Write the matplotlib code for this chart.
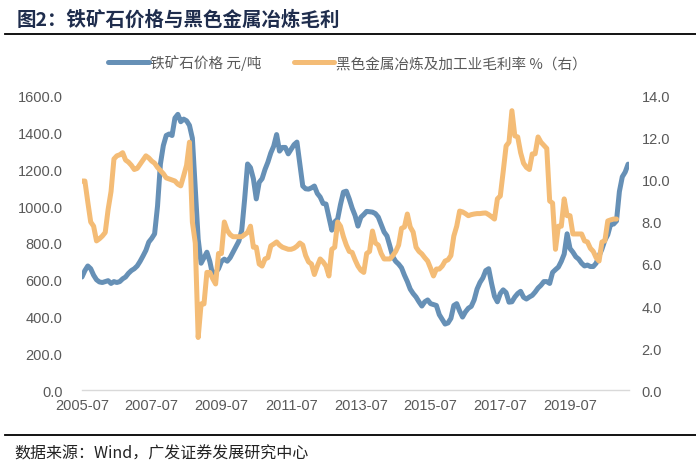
import numpy as np
import pandas as pd
import matplotlib
matplotlib.use("Agg")
import matplotlib.pyplot as plt
from matplotlib.lines import Line2D

plt.rcParams['font.family'] = ['Noto Sans CJK SC', 'DejaVu Sans']

# 月度数据，起点 2005-07
start_month = "2005-07"

iron_ore = [
    615, 650, 675, 660, 625, 600, 588, 585, 590, 595,
    580, 590, 585, 590, 605, 615, 635, 650, 660, 675,
    700, 729, 760, 805, 825, 850, 1000, 1230, 1330, 1385,
    1393, 1385, 1480, 1500, 1460, 1474, 1465, 1440, 1370, 1093,
    821, 690, 720, 750, 700, 625, 640, 660, 700, 712,
    701, 720, 750, 780, 810, 870, 1040, 1230, 1210, 1150,
    1040, 1130, 1150, 1200, 1240, 1290, 1327, 1390, 1300, 1320,
    1320, 1285, 1310, 1335, 1349, 1230, 1110, 1095, 1093, 1100,
    1110, 1070, 1050, 1015, 1012, 940, 870, 915, 930, 1010,
    1077, 1082, 1040, 990, 950, 892, 940, 955, 972, 970,
    968, 960, 941, 900, 860, 838, 783, 725, 700, 685,
    665, 625, 590, 549, 525, 506, 480, 457, 480, 490,
    470, 465, 460, 410, 385, 359, 365, 390, 460, 470,
    430, 397, 425, 445, 455, 490, 549, 585, 610, 650,
    660, 580, 510, 480, 525, 545, 530, 478, 480, 506,
    525, 537, 505, 495, 506, 515, 533, 555, 570, 590,
    590, 580, 640, 655, 669, 700, 740, 850, 770, 750,
    725, 712, 690, 675, 680, 672, 672, 690, 730, 767,
    815, 845, 903, 903, 920, 1080, 1160, 1186, 1229,
]

margin = [
    9.95, 9.95, 8.95, 8.0, 7.8, 7.1, 7.2, 7.33, 7.5, 8.6,
    9.45, 11.0, 11.15, 11.2, 11.3, 10.95, 10.85, 10.7, 10.5, 10.55,
    10.75, 10.95, 11.15, 11.05, 10.9, 10.8, 10.6, 10.45, 10.3, 10.1,
    10.05, 10.0, 9.95, 9.8, 9.72, 10.2, 10.7, 11.8, 8.0, 7.0,
    2.5, 4.1, 4.1, 5.6, 5.6, 5.3, 5.05, 6.5, 6.5, 8.0,
    7.6, 7.4, 7.3, 7.3, 7.3, 7.3, 7.4, 7.5, 7.8, 6.8,
    6.8, 6.0, 5.9, 6.24, 6.3, 6.86, 6.95, 7.05, 6.9, 6.8,
    6.75, 6.7, 6.7, 6.75, 6.85, 7.0, 6.9, 6.4, 6.1, 6.0,
    5.5, 5.9, 6.24, 6.1, 5.9, 5.43, 6.7, 6.8, 8.0, 7.8,
    7.3, 6.9, 6.6, 6.55, 6.2, 5.9, 5.7, 5.6, 6.5, 6.6,
    7.57, 7.0, 6.9, 6.5, 6.24, 6.24, 6.24, 6.4, 6.6, 6.9,
    7.7, 7.76, 8.38, 7.76, 7.52, 6.8, 6.6, 6.48, 6.3, 6.14,
    5.8, 5.43, 5.76, 5.76, 5.9, 6.14, 6.2, 6.4, 7.33, 7.8,
    8.52, 8.48, 8.4, 8.3, 8.35, 8.38, 8.4, 8.4, 8.42, 8.43,
    8.35, 8.25, 8.14, 9.1, 9.24, 10.4, 11.62, 11.8, 13.3, 12.1,
    12.05, 11.3, 10.8, 10.6, 10.5, 11.24, 11.25, 12.05, 11.8, 11.65,
    11.5, 9.0, 8.9, 6.7, 7.8, 7.8, 9.1, 8.3, 8.3, 7.43,
    7.43, 7.43, 7.43, 7.1, 7.05, 6.75, 6.6, 6.3, 6.14, 7.05,
    7.1, 8.05, 8.1, 8.14, 8.14,
]

months = pd.period_range(start_month, periods=len(iron_ore), freq="M")
labels = [str(p) for p in months]

blue = "#6690B6"
orange = "#F4BC76"
grey = "#595959"

fig = plt.figure(figsize=(6.96, 4.64), dpi=100)
ax = fig.add_axes([0.1178, 0.1573, 0.7859, 0.6337])
ax2 = ax.twinx()

x1 = np.arange(len(iron_ore))
x2 = np.arange(len(margin))
l1, = ax.plot(x1, iron_ore, color=blue, lw=3.6, solid_capstyle="round",
              solid_joinstyle="round", label="铁矿石价格 元/吨")
l2, = ax2.plot(x2, margin, color=orange, lw=3.6, solid_capstyle="round",
               solid_joinstyle="round", label="黑色金属冶炼及加工业毛利率 %（右）")

ax.set_xlim(0, 188.3)
ax.set_ylim(0, 1600)
ax2.set_ylim(0, 14)
ax.set_yticks(np.arange(0, 1601, 200))
ax.set_yticklabels([f"{v:.1f}" for v in np.arange(0, 1601, 200)])
ax2.set_yticks(np.arange(0, 15, 2))
ax2.set_yticklabels([f"{v:.1f}" for v in np.arange(0, 15, 2)])

ticks = list(range(0, len(iron_ore), 24))
ax.set_xticks(ticks)
ax.set_xticklabels([labels[i] for i in ticks])

for a in (ax, ax2):
    for s in a.spines.values():
        s.set_visible(False)
    a.tick_params(length=0, colors=grey, labelsize=10.5)
    for t in a.get_xticklabels() + a.get_yticklabels():
        t.set_family("Liberation Sans")
ax.spines["bottom"].set_visible(True)
ax.spines["bottom"].set_color("#D9D9D9")
ax.spines["bottom"].set_linewidth(1.0)
ax.tick_params(axis="y", pad=14)
ax2.tick_params(axis="y", pad=9)
ax.tick_params(axis="x", pad=6)

fig.legend(handles=[l1, l2], loc="center", bbox_to_anchor=(0.499, 0.864),
           ncol=2, frameon=False, handlelength=2.8, handletextpad=0.1,
           columnspacing=2.2, prop={"size": 10.5},
           labelcolor=grey)

fig.text(0.024, 1 - 20 / 464, "图2：铁矿石价格与黑色金属冶炼毛利", fontsize=14,
         fontweight="bold", color="#1F2D4D", va="center", ha="left")
fig.add_artist(Line2D([0.007, 1.0], [1 - 35 / 464] * 2, color="black", lw=1.3))
fig.add_artist(Line2D([0.007, 1.0], [1 - 436 / 464] * 2, color="black", lw=1.3))
fig.text(0.021, 1 - 454 / 464, "数据来源：Wind，广发证券发展研究中心", fontsize=11.5,
         color="#222222", va="center", ha="left")

fig.savefig("out.png", dpi=100)
